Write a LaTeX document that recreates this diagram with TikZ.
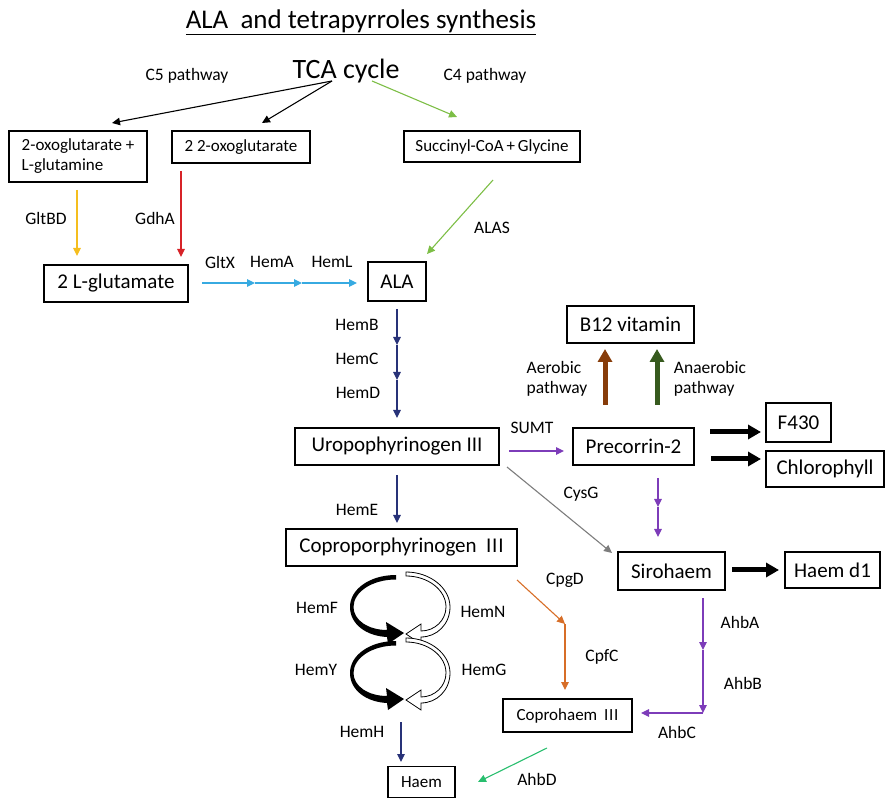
\documentclass[tikz,border=0pt]{standalone}
\usepackage{fontspec}
\setmainfont{Carlito}
\usetikzlibrary{arrows.meta}
\definecolor{cfourgreen}{RGB}{125,190,70}
\definecolor{goldy}{RGB}{245,190,30}
\definecolor{redy}{RGB}{215,35,40}
\definecolor{skyblue}{RGB}{55,170,225}
\definecolor{navy}{RGB}{40,50,120}
\definecolor{purp}{RGB}{125,60,185}
\definecolor{greyy}{RGB}{125,125,125}
\definecolor{orangy}{RGB}{215,110,40}
\definecolor{browny}{RGB}{135,60,10}
\definecolor{darkgr}{RGB}{55,90,30}
\definecolor{teal}{RGB}{40,190,110}
\begin{document}
\begin{tikzpicture}[x=1pt,y=-1pt,
  box/.style={draw, line width=1.1pt, inner sep=0pt, align=center},
  bigf/.style={font=\fontsize{21}{24}\selectfont},
  smf/.style={font=\fontsize{17}{20}\selectfont},
  lab/.style={font=\fontsize{17.5}{20}\selectfont, inner sep=0pt},
  thinarr/.style={line width=1.1pt, -{Triangle[length=8pt,width=7.5pt]}},
  fatarr/.style={line width=5pt, -{Triangle[length=13pt,width=14pt]}},
]
\useasboundingbox (0,0) rectangle (887,799);

% titles
\node[font=\fontsize{27}{30}\selectfont, inner sep=0pt] (title) at (361,22) {\underline{ALA\ \ and tetrapyrroles synthesis}};
\node[font=\fontsize{28}{30}\selectfont, inner sep=0pt] (tca) at (346,71) {TCA cycle};
\coordinate (tcaL) at (332,81);
\coordinate (tcaR) at (372,81);

% boxes
\node[box, smf, align=left, minimum width=138pt, minimum height=51pt] (ox1) at (78,156.5) {2-oxoglutarate +\\L-glutamine};
\node[box, smf, minimum width=138pt, minimum height=32pt] (ox2) at (241,147) {2 2-oxoglutarate};
\node[box, smf, minimum width=176pt, minimum height=31pt] (suc) at (492,146.5) {Succinyl-CoA\,+\,Glycine};
\node[box, bigf, minimum width=144pt, minimum height=37pt] (glu) at (116,283.5) {2 L-glutamate};
\node[box, bigf, minimum width=58pt, minimum height=39pt] (ala) at (397,281.5) {ALA};
\node[box, bigf, minimum width=204pt, minimum height=37pt] (uro) at (397,446.5) {Uropophyrinogen III};
\node[box, bigf, minimum width=127pt, minimum height=37pt] (b12) at (630.5,324.5) {B12 vitamin};
\node[box, bigf, minimum width=121pt, minimum height=37pt] (pre) at (633.5,446.5) {Precorrin-2};
\node[box, bigf, minimum width=65pt, minimum height=39pt] (f430) at (798.5,422.5) {F430};
\node[box, bigf, minimum width=118pt, minimum height=36pt] (chl) at (825,469) {Chlorophyll};
\node[box, bigf, minimum width=107pt, minimum height=38pt] (siro) at (671.5,571) {Sirohaem};
\node[box, bigf, minimum width=95pt, minimum height=36pt] (hd1) at (832.5,570) {Haem d1};
\node[box, bigf, minimum width=231pt, minimum height=37pt] (copro) at (401.5,547.5) {Coproporphyrinogen\hspace{0.45em}I\kern0.8pt I\kern0.8pt I};
\node[box, smf, minimum width=129pt, minimum height=33pt] (cphm) at (567.5,715.5) {Coprohaem\hspace{0.4em}I\kern0.7pt I\kern0.7pt I};
\node[box, smf, minimum width=67pt, minimum height=31pt] (haem) at (421.5,782) {Haem};

% labels
\node[lab] (lc5) at (187,76) {C5 pathway};
\node[lab] (lc4) at (485,76) {C4 pathway};
\node[lab] (lgltbd) at (46,218) {GltBD};
\node[lab] (lgdha) at (155,218) {GdhA};
\node[lab] (lgltx) at (220,262) {GltX};
\node[lab] (lhema) at (272,262) {HemA};
\node[lab] (lheml) at (332,262) {HemL};
\node[lab] (lalas) at (492,228) {ALAS};
\node[lab] (lhemb) at (357,325) {HemB};
\node[lab] (lhemc) at (357,359) {HemC};
\node[lab] (lhemd) at (358,393) {HemD};
\node[lab, align=left] (laer) at (557,379) {Aerobic\\pathway};
\node[lab, align=left] (lanaer) at (710,379) {Anaerobic\\pathway};
\node[lab] (lsumt) at (532,428) {SUMT};
\node[lab] (lcysg) at (581,494) {CysG};
\node[lab] (lheme) at (357,510) {HemE};
\node[lab] (lcpgd) at (565,580) {CpgD};
\node[lab] (lcpfc) at (602,657) {CpfC};
\node[lab] (lhemf) at (317,608) {HemF};
\node[lab] (lhemn) at (483,612) {HemN};
\node[lab] (lhemy) at (316,670) {HemY};
\node[lab] (lhemg) at (484,670) {HemG};
\node[lab] (lhemh) at (362,732) {HemH};
\node[lab] (lahbd) at (537,779) {AhbD};
\node[lab] (lahba) at (740,622) {AhbA};
\node[lab] (lahbb) at (743,683) {AhbB};
\node[lab] (lahbc) at (677,732) {AhbC};

% TCA arrows
\coordinate (t1) at (112,123);
\coordinate (t2) at (262,123);
\coordinate (t3) at (457,117);
\draw[thinarr, black] (tcaL) -- (t1);
\draw[thinarr, black] (tcaL) -- (t2);
\draw[thinarr, cfourgreen] (tcaR) -- (t3);

% to glutamate
\coordinate (y0) at (77,190); \coordinate (y1) at (77,256);
\draw[thinarr, goldy] (y0) -- (y1);
\coordinate (r0) at (181,171); \coordinate (r1) at (181,257);
\draw[thinarr, redy] (r0) -- (r1);

% ALAS
\coordinate (g0) at (493,180); \coordinate (g1) at (427,254);
\draw[thinarr, cfourgreen] (g0) -- (g1);

% blue chain
\coordinate (b0) at (202,283); \coordinate (b1) at (255,283); \coordinate (b2) at (302,283); \coordinate (b3) at (357,283);
\draw[thinarr, skyblue] (b0) -- (b1);
\draw[thinarr, skyblue] (b1) -- (b2);
\draw[thinarr, skyblue] (b2) -- (b3);

% navy chain
\coordinate (n0) at (397,309); \coordinate (n1) at (397,345); \coordinate (n2) at (397,380); \coordinate (n3) at (397,418);
\draw[thinarr, navy] (n0) -- (n1);
\draw[thinarr, navy] (n1) -- (n2);
\draw[thinarr, navy] (n2) -- (n3);

% HemE
\coordinate (e0) at (397,475); \coordinate (e1) at (397,523);
\draw[thinarr, navy] (e0) -- (e1);

% SUMT
\coordinate (s0) at (509,451); \coordinate (s1) at (564,451);
\draw[thinarr, purp] (s0) -- (s1);

% CysG grey
\coordinate (c0) at (507,467); \coordinate (c1) at (612,553);
\draw[thinarr, greyy] (c0) -- (c1);

% precorrin down
\coordinate (p0) at (658,478); \coordinate (p1) at (658,507); \coordinate (p2) at (658,537);
\draw[thinarr, purp] (p0) -- (p1);
\draw[thinarr, purp] (p1) -- (p2);

% B12 arrows
\coordinate (br0) at (605,405); \coordinate (br1) at (605,349);
\draw[fatarr, browny] (br0) -- (br1);
\coordinate (dg0) at (657,405); \coordinate (dg1) at (657,349);
\draw[fatarr, darkgr] (dg0) -- (dg1);

% thick black
\coordinate (k0) at (710,432); \coordinate (k1) at (761,432);
\draw[fatarr, black] (k0) -- (k1);
\coordinate (k2) at (711,459); \coordinate (k3) at (761,459);
\draw[fatarr, black] (k2) -- (k3);
\coordinate (k4) at (732,570); \coordinate (k5) at (779,570);
\draw[fatarr, black] (k4) -- (k5);

% orange
\coordinate (o0) at (517,580); \coordinate (o1) at (565,624); \coordinate (o2) at (565,690);
\draw[thinarr, orangy] (o0) -- (o1);
\draw[thinarr, orangy] (o1) -- (o2);

% Ahb chain
\coordinate (a0) at (703,598); \coordinate (a1) at (703,650); \coordinate (a2) at (703,713); \coordinate (a3) at (641,713);
\draw[thinarr, purp] (a0) -- (a1);
\draw[thinarr, purp] (a1) -- (a2);
\draw[thinarr, purp] (a2) -- (a3);

% HemH
\coordinate (h0) at (401,722); \coordinate (h1) at (401,762);
\draw[thinarr, navy] (h0) -- (h1);

% AhbD
\coordinate (d0) at (547,748); \coordinate (d1) at (478,782);
\draw[thinarr, teal] (d0) -- (d1);

% cycle arrows
\foreach \dy in {0,66} {
\begin{scope}[shift={(0,\dy)}]
\fill[black] (396,575) .. controls (370,575) and (350,589) .. (350,607)
  .. controls (350,624) and (366,636) .. (387,637) -- (388,644) -- (404,633) -- (386,622) -- (387,630)
  .. controls (368,630) and (353.5,620) .. (353.5,607)
  .. controls (353.5,592) and (372,579.5) .. (396,579.5) -- cycle;
\filldraw[fill=white, draw=black, line width=0.8pt] (406,576) .. controls (428,576) and (446,590) .. (446,607)
  .. controls (446,620) and (435,631) .. (421,631) -- (421,624) -- (406,634) -- (421,644) -- (421,637)
  .. controls (437,637) and (450,624) .. (450,607)
  .. controls (450,588) and (430,572) .. (406,572) -- cycle;
\end{scope}
}
\end{tikzpicture}
\end{document}
